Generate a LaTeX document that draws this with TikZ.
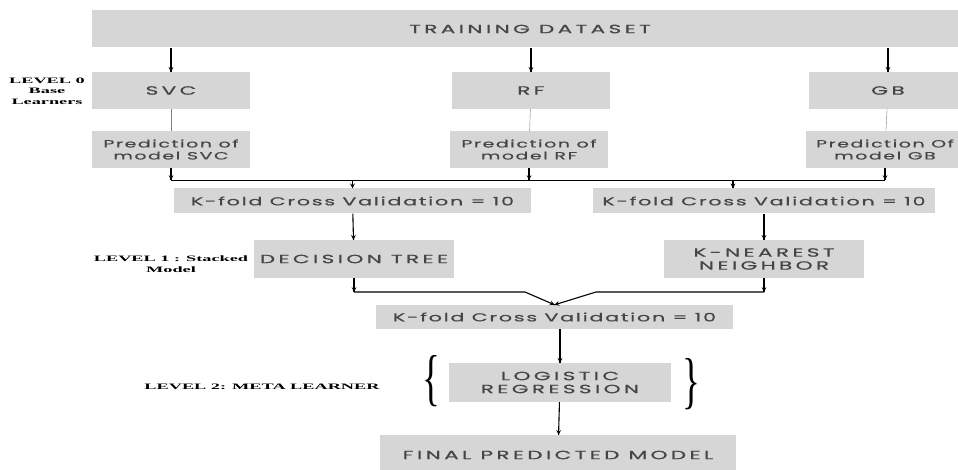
\documentclass[tikz,border=0pt]{standalone}
\usepackage{fontspec}
\usepackage{tikz}
\usetikzlibrary{arrows,decorations.markings}
\newfontfamily\boxfont[FakeStretch=1.8,LetterSpace=15,FakeBold=0.6]{Poppins}
\newfontfamily\capsfont[FakeStretch=1.8,LetterSpace=28,FakeBold=0.6]{Poppins}
\newfontfamily\levelfont[FakeStretch=2.2]{Liberation Serif}
\newfontfamily\bracefont[FakeStretch=0.6]{Liberation Serif}
\definecolor{boxgray}{HTML}{D6D6D6}
\definecolor{boxtext}{HTML}{454545}
\tikzstyle{basic} = [rectangle, minimum width=158pt, minimum height=37pt, inner sep=0pt, align=center, fill=boxgray, text=boxtext, font=\boxfont\fontsize{11.5}{12}\selectfont]
\tikzstyle{pred} = [basic, font=\boxfont\fontsize{10.5}{12}\selectfont]
\tikzstyle{caps} = [basic, font=\capsfont\fontsize{12}{13}\selectfont]
\tikzstyle{wide} = [basic, minimum width=357pt, minimum height=25pt]
\tikzstyle{level} = [align=center, font=\levelfont\bfseries\fontsize{8.3}{10.5}\selectfont]
\tikzstyle{brace} = [inner sep=0pt, font=\bracefont\fontsize{62}{62}\selectfont]

\begin{document}
\begin{tikzpicture}[x=1pt,y=1pt,node distance=59pt]
    \tikzset{flowptr/.style={line width=1.1pt,decoration={markings,mark=at position 1 with %
    {\arrow[scale=1.0,>=stealth]{>}}},postaction={decorate}}}
    \useasboundingbox (0,0) rectangle (958,-470);

    % level 0
    \node (train) [caps, minimum width=876pt] at (530,-29) {TRAINING DATASET};
    \node (svc) [caps] at (171,-90.5) {SVC};
    \node (rf) [caps, right of=svc, xshift=301pt] {RF};
    \node (gb) [caps, right of=rf, xshift=298pt] {GB};
    \node (svc_pred) [pred, below of=svc] {Prediction of\\model SVC};
    \node (rf_pred) [pred, below of=rf, xshift=-2pt] {Prediction of\\model RF};
    \node (gb_pred) [pred, below of=gb, xshift=-3pt] {Prediction Of\\model GB};
    \node (lvl0) [level] at (47,-91) {LEVEL 0\\Base\\Learners};

    % level 1
    \node (kfold1) [wide] at (352.5,-201) {K-fold Cross Validation = 10};
    \node (kfold2) [wide, minimum width=342pt, right of=kfold1, xshift=352.5pt] {K-fold Cross Validation = 10};
    \node (dt) [caps, minimum width=200pt, minimum height=38pt] at (354,-259) {DECISION TREE};
    \node (knn) [caps, minimum width=200pt, minimum height=38pt, right of=dt, xshift=351pt] {K-NEAREST\\NEIGHBOR};
    \node (lvl1) [level] at (171,-264) {LEVEL 1 : Stacked\\Model};

    % level 2
    \node (kfold3) [wide, minimum height=24pt] at (554.5,-317) {K-fold Cross Validation = 10};
    \node (lr) [caps, minimum width=222pt, minimum height=39pt] at (560,-382.5) {LOGISTIC\\REGRESSION};
    \node (final) [caps, minimum width=356pt, minimum height=40pt] at (558,-455) {FINAL PREDICTED MODEL};
    \node (lbrace) [brace] at (431,-381) {\{};
    \node (rbrace) [brace] at (691,-384) {\}};
    \node (lvl2) [level] at (262,-387) {LEVEL 2: META LEARNER};

    \coordinate (bus) at (0,-180);
    \coordinate (join) at (0,-292);
    \coordinate (vleft) at (525,-292);
    \coordinate (vright) at (596,-292);
    \coordinate (tap2) at ([xshift=-31pt]kfold2.north);

    \draw[flowptr] (train.south -| svc) -- (svc.north);
    \draw[flowptr] (train.south -| rf) -- (rf.north);
    \draw[flowptr] (train.south -| gb) -- (gb.north);
    \draw[gray] (svc) -- (svc_pred);
    \draw[gray] (rf) -- (rf_pred);
    \draw[gray] (gb) -- (gb_pred);

    \draw[flowptr] (svc_pred.south) -- (svc_pred.south |- bus);
    \draw[flowptr] (rf_pred.south) -- (rf_pred.south |- bus);
    \draw[flowptr] (gb_pred.south) -- (gb_pred.south |- bus);
    \draw[line width=0.9pt] (svc_pred.south |- bus) -- (gb_pred.south |- bus);
    \draw[flowptr] (kfold1.north |- bus) -- (kfold1.north);
    \draw[flowptr] (tap2 |- bus) -- (tap2);

    \draw[flowptr] (kfold1) -- (dt);
    \draw[flowptr] (kfold2) -- (knn);
    \draw[flowptr] (dt.south) -- (dt.south |- join);
    \draw[flowptr] (knn.south) -- (knn.south |- join);
    \draw[flowptr] (dt.south |- join) -- (vleft) -- (kfold3.north);
    \draw[flowptr] (knn.south |- join) -- (vright) -- (kfold3.north);

    \draw[flowptr] (lr.north |- kfold3.south) -- (lr.north);
    \draw[flowptr] (lr) -- (final);
\end{tikzpicture}
\end{document}
